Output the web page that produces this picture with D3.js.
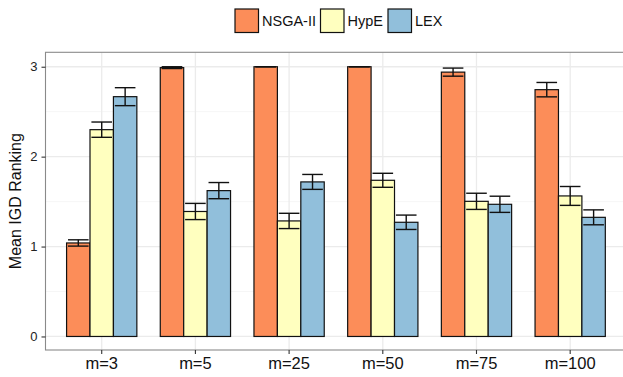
<!DOCTYPE html>
<html>
<head>
<meta charset="utf-8">
<script src="https://cdn.jsdelivr.net/npm/d3@7.9.0/dist/d3.min.js"></script>
<style>
  html, body { margin: 0; padding: 0; background: #fff; }
  svg { display: block; font-family: "Liberation Sans", Arial, Helvetica, sans-serif; }
</style>
</head>
<body>
<div id="chart"></div>
<script>
"use strict";

// data
const CATEGORIES = ["m=3", "m=5", "m=25", "m=50", "m=75", "m=100"];
const SERIES = ["NSGA-II", "HypE", "LEX"];
const COLORS = ["#fc8d59", "#ffffbf", "#91bfdb"];

const NSGA_MEAN = [1.04, 2.99, 3.00, 3.00, 2.94, 2.745];
const NSGA_ERR  = [0.035, 0.01, 0.0, 0.0, 0.045, 0.08];
const HYPE_MEAN = [2.30, 1.39, 1.285, 1.737, 1.503, 1.563];
const HYPE_ERR  = [0.085, 0.09, 0.085, 0.078, 0.09, 0.105];
const LEX_MEAN  = [2.667, 1.622, 1.719, 1.27, 1.47, 1.325];
const LEX_ERR   = [0.10, 0.09, 0.083, 0.08, 0.09, 0.083];

const Y_TICKS = [0, 1, 2, 3];
const Y_MINOR = [0.5, 1.5, 2.5];

const MEANS = [NSGA_MEAN, HYPE_MEAN, LEX_MEAN];
const ERRS = [NSGA_ERR, HYPE_ERR, LEX_ERR];

const W = 623, H = 377;
const panel = { left: 45.5, right: 626.4, top: 52.3, bottom: 350 };

const svg = d3.select("#chart").append("svg")
    .attr("width", W)
    .attr("height", H);

svg.append("rect").attr("width", W).attr("height", H).attr("fill", "#fff");

// scales
const x = d3.scaleBand()
    .domain(CATEGORIES)
    .range([panel.left, panel.right])
    .paddingInner(0)
    .paddingOuter(0.1);

const groupW = x.bandwidth() * 0.75;
const xs = d3.scaleBand()
    .domain(SERIES)
    .range([-groupW / 2, groupW / 2]);

const y = d3.scaleLinear()
    .domain([-0.1505, 3.1605])
    .range([panel.bottom, panel.top]);

const cx = (c) => x(c) + x.bandwidth() / 2;

// grid
const grid = svg.append("g");
grid.selectAll("none").data(Y_MINOR).join("line")
    .attr("x1", panel.left).attr("x2", panel.right)
    .attr("y1", (d) => y(d)).attr("y2", (d) => y(d))
    .attr("stroke", "#f4f4f4").attr("stroke-width", 0.8);
grid.selectAll("none").data(Y_TICKS).join("line")
    .attr("x1", panel.left).attr("x2", panel.right)
    .attr("y1", (d) => y(d)).attr("y2", (d) => y(d))
    .attr("stroke", "#ebebeb").attr("stroke-width", 1.3);
grid.selectAll("none").data(CATEGORIES).join("line")
    .attr("x1", cx).attr("x2", cx)
    .attr("y1", panel.top).attr("y2", panel.bottom)
    .attr("stroke", "#ebebeb").attr("stroke-width", 1.3);

// bars
const rows = [];
SERIES.forEach((s, si) => {
    CATEGORIES.forEach((c, ci) => {
        rows.push({ s, si, c, mean: MEANS[si][ci], err: ERRS[si][ci] });
    });
});

svg.append("g").selectAll("rect").data(rows).join("rect")
    .attr("x", (d) => cx(d.c) + xs(d.s))
    .attr("width", xs.bandwidth())
    .attr("y", (d) => y(d.mean))
    .attr("height", (d) => y(0) - y(d.mean))
    .attr("fill", (d) => COLORS[d.si])
    .attr("stroke", "#111")
    .attr("stroke-width", 1.2);

// error bars
const capW = xs.bandwidth() * 0.88;
const eb = svg.append("g").attr("stroke", "#111").attr("stroke-width", 1.4).attr("fill", "none");
const ebG = eb.selectAll("g").data(rows).join("g")
    .attr("transform", (d) => `translate(${cx(d.c) + xs(d.s) + xs.bandwidth() / 2},0)`);
ebG.append("line")
    .attr("x1", 0).attr("x2", 0)
    .attr("y1", (d) => y(d.mean + d.err)).attr("y2", (d) => y(d.mean - d.err));
ebG.append("line")
    .attr("x1", -capW / 2).attr("x2", capW / 2)
    .attr("y1", (d) => y(d.mean + d.err)).attr("y2", (d) => y(d.mean + d.err));
ebG.append("line")
    .attr("x1", -capW / 2).attr("x2", capW / 2)
    .attr("y1", (d) => y(d.mean - d.err)).attr("y2", (d) => y(d.mean - d.err));

// panel border
svg.append("rect")
    .attr("x", panel.left).attr("y", panel.top)
    .attr("width", panel.right - panel.left).attr("height", panel.bottom - panel.top)
    .attr("fill", "none").attr("stroke", "#8a8a8a").attr("stroke-width", 1.1);

// axes
const yAxis = svg.append("g")
    .attr("transform", `translate(${panel.left},0)`)
    .call(d3.axisLeft(y).tickValues(Y_TICKS).tickSize(4).tickPadding(4).tickFormat(d3.format("d")));
yAxis.select(".domain").remove();
yAxis.selectAll(".tick line").attr("stroke", "#333").attr("stroke-width", 1.1);
yAxis.selectAll(".tick text").attr("fill", "#222").style("font-size", "13px")
    .style("font-family", "'Liberation Sans', Arial, sans-serif");

const xAxis = svg.append("g")
    .attr("transform", `translate(0,${panel.bottom})`)
    .call(d3.axisBottom(x).tickSize(4).tickPadding(3));
xAxis.select(".domain").remove();
xAxis.selectAll(".tick line").attr("stroke", "#333").attr("stroke-width", 1.1);
xAxis.selectAll(".tick text").attr("fill", "#111").style("font-size", "16.5px")
    .style("font-family", "'Liberation Sans', Arial, sans-serif");

svg.append("text")
    .attr("transform", `translate(21,${(panel.top + panel.bottom) / 2}) rotate(-90)`)
    .attr("text-anchor", "middle")
    .attr("fill", "#111")
    .style("font-size", "16px")
    .text("Mean IGD Ranking");

// legend
const legendX = [235, 320.5, 388];
const key = 23.5;
const lg = svg.append("g");
const items = lg.selectAll("g").data(SERIES).join("g")
    .attr("transform", (d, i) => `translate(${legendX[i]},9)`);
items.append("rect")
    .attr("width", key).attr("height", key)
    .attr("fill", (d, i) => COLORS[i])
    .attr("stroke", "#111").attr("stroke-width", 1.2);
items.append("text")
    .attr("x", key + 3.5).attr("y", key / 2)
    .attr("dy", "0.36em")
    .attr("fill", "#111")
    .style("font-size", "14.5px")
    .text((d) => d);
</script>
</body>
</html>
